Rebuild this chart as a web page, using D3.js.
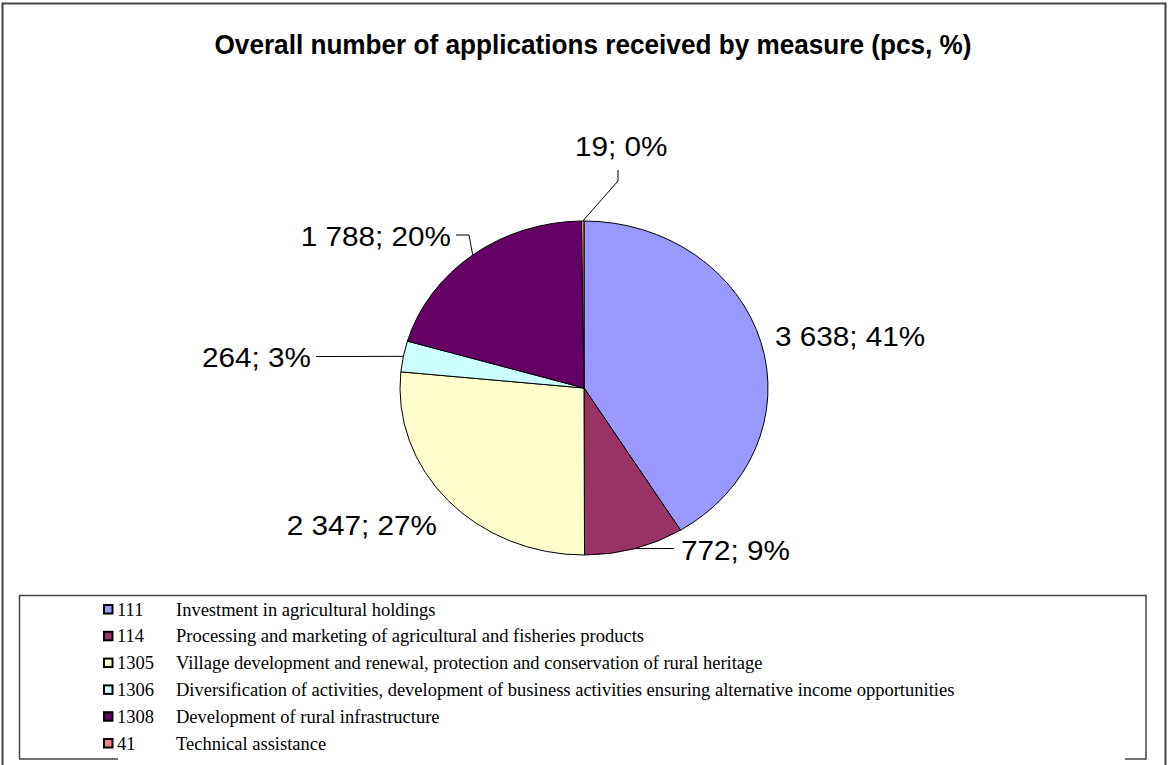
<!DOCTYPE html>
<html>
<head>
<meta charset="utf-8">
<script src="https://cdn.jsdelivr.net/npm/d3@7"></script>
<style>
  html, body { margin: 0; padding: 0; background: #ffffff; }
  svg { display: block; }
</style>
</head>
<body>
<svg id="chart" width="1168" height="765"></svg>
<script>
// Measures and the number of applications received for each
const codes = ["111", "114", "1305", "1306", "1308", "41"];
const descriptions = [
  "Investment in agricultural holdings",
  "Processing and marketing of agricultural and fisheries products",
  "Village development and renewal, protection and conservation of rural heritage",
  "Diversification of activities, development of business activities ensuring alternative income opportunities",
  "Development of rural infrastructure",
  "Technical assistance"
];
const applications = [3638, 772, 2347, 264, 1788, 19];
const percentLabels = ["41%", "9%", "27%", "3%", "20%", "0%"];
const colors = ["#9999FF", "#993366", "#FFFFCC", "#CCFFFF", "#660066", "#FF8080"];

const svg = d3.select("#chart");
const W = 1168, H = 765;

// Outer frame
svg.append("rect").attr("x", 0).attr("y", 0).attr("width", W).attr("height", H).attr("fill", "#ffffff");
svg.append("path")
  .attr("d", "M2.5,770 L2.5,3.5 L1165.5,3.5 L1165.5,770")
  .attr("fill", "none").attr("stroke", "#444").attr("stroke-width", 2);

// Title
svg.append("text")
  .attr("x", 593).attr("y", 54)
  .attr("text-anchor", "middle")
  .attr("font-family", "Liberation Sans, Arial, sans-serif")
  .attr("font-weight", "bold")
  .attr("font-size", 27)
  .attr("textLength", 757)
  .attr("lengthAdjust", "spacingAndGlyphs")
  .attr("fill", "#000")
  .text("Overall number of applications received by measure (pcs, %)");

// Pie (drawn as an ellipse)
const cx = 584, cy = 388, rx = 184, ry = 167;
const pie = d3.pie().sort(null).value(d => d)(applications);
const arc = d3.arc().innerRadius(0).outerRadius(rx);

const pieG = svg.append("g")
  .attr("transform", `translate(${cx},${cy}) scale(1,${ry / rx})`);
pieG.selectAll("path.slice")
  .data(pie)
  .join("path")
  .attr("class", "slice")
  .attr("d", arc)
  .attr("fill", (d, i) => colors[i])
  .attr("stroke", "#000")
  .attr("stroke-width", 1)
  .attr("vector-effect", "non-scaling-stroke");

// Point on the ellipse rim at a slice's mid angle
function rimPoint(d) {
  const a = (d.startAngle + d.endAngle) / 2;
  return [cx + rx * Math.sin(a), cy - ry * Math.cos(a)];
}

// Data label placement: text position, anchor and optional leader elbow points
const labelLayout = [
  { x: 775, y: 346, anchor: "start", leader: null },
  { x: 681, y: 560, anchor: "start", leader: [[674, 548.5]] },
  { x: 437, y: 535, anchor: "end", leader: null },
  { x: 311, y: 367, anchor: "end", leader: [[316, 356.5]] },
  { x: 451, y: 246, anchor: "end", leader: [[456, 235], [469, 235]] },
  { x: 575, y: 156, anchor: "start", leader: [[618, 170], [618, 181]] }
];

const fmt = v => d3.format(",")(v).replace(/,/g, " ");
const labelStretch = 1.1;

pie.forEach((d, i) => {
  const L = labelLayout[i];
  if (L.leader) {
    const pts = L.leader.concat([rimPoint(d)]);
    svg.append("path")
      .attr("d", d3.line()(pts))
      .attr("fill", "none")
      .attr("stroke", "#000")
      .attr("stroke-width", 1);
  }
  svg.append("text")
    .attr("transform", `translate(${L.x},${L.y}) scale(${labelStretch},1)`)
    .attr("text-anchor", L.anchor)
    .attr("font-family", "Liberation Sans, Arial, sans-serif")
    .attr("font-size", 27)
    .attr("fill", "#000")
    .text(`${fmt(applications[i])}; ${percentLabels[i]}`);
});

// Legend box (bottom edge only partly visible)
const lg = svg.append("g");
lg.append("path")
  .attr("d", "M118,759 L19.5,759 L19.5,595.5 L1146,595.5 L1146,759 L1125,759")
  .attr("fill", "none").attr("stroke", "#444").attr("stroke-width", 1.5);

const rowY = d3.scalePoint().domain(codes).range([610, 744]);

const rows = lg.selectAll("g.row")
  .data(codes)
  .join("g")
  .attr("class", "row")
  .attr("transform", d => `translate(0,${rowY(d)})`);

rows.append("rect")
  .attr("x", 104).attr("y", -5)
  .attr("width", 8.5).attr("height", 8.5)
  .attr("fill", (d, i) => colors[i])
  .attr("stroke", "#000")
  .attr("stroke-width", 2);

rows.append("text")
  .attr("x", 117).attr("y", 5.5)
  .attr("font-family", "Liberation Serif, Times New Roman, serif")
  .attr("font-size", 18.5)
  .attr("fill", "#000")
  .text(d => d);

rows.append("text")
  .attr("x", 176).attr("y", 5.5)
  .attr("font-family", "Liberation Serif, Times New Roman, serif")
  .attr("font-size", 18.5)
  .attr("fill", "#000")
  .text((d, i) => descriptions[i]);
</script>
</body>
</html>
